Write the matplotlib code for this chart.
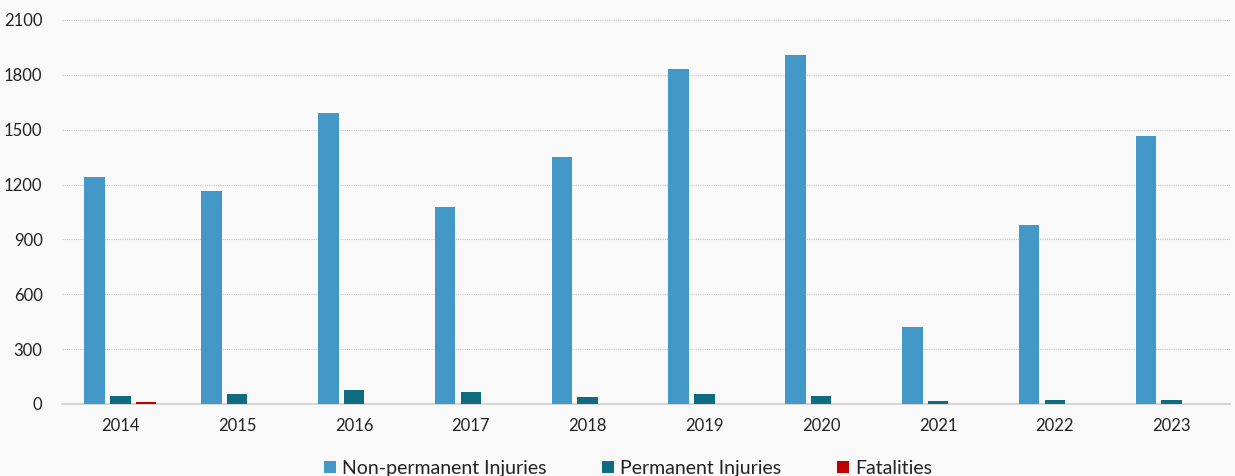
import matplotlib
matplotlib.use("Agg")
import matplotlib.pyplot as plt
import numpy as np

years = ["2014", "2015", "2016", "2017", "2018", "2019", "2020", "2021", "2022", "2023"]
non_permanent = [1240, 1165, 1590, 1078, 1352, 1833, 1908, 421, 980, 1466]
permanent = [46, 52, 74, 64, 36, 55, 44, 15, 24, 22]
fatalities = [9, 2, 1, 1, 1, 1, 1, 2, 1, 1]

plt.rcParams['font.family'] = ['Lato', 'DejaVu Sans']

fig = plt.figure(figsize=(12.35, 4.76), dpi=100, facecolor="#f9f9f9")
ax = fig.add_axes([62 / 1235, 72 / 476, 1168 / 1235, 384 / 476])
ax.set_facecolor("#f9f9f9")

x = np.arange(len(years))
w = 0.175
step = 0.22
ax.bar(x - step, non_permanent, w, color="#4398c8", label="Non-permanent Injuries", zorder=3)
ax.bar(x, permanent, w, color="#0e6b80", label="Permanent Injuries", zorder=3)
ax.bar(x + step, fatalities, w, color="#c00000", label="Fatalities", zorder=3)

ax.set_xlim(-0.5, len(years) - 0.5)
ax.set_ylim(0, 2100)
ax.set_yticks(range(0, 2101, 300))
ax.set_xticks(x)
ax.set_xticklabels(years)
ax.tick_params(axis="both", length=0, labelsize=12, colors="#222222")
ax.tick_params(axis="y", pad=14)
ax.tick_params(axis="x", pad=10)
ax.yaxis.grid(True, linestyle=(0, (1, 1)), color="#c8c8c8", linewidth=0.8, zorder=0)

for side in ["top", "right", "left"]:
    ax.spines[side].set_visible(False)
ax.spines["bottom"].set_color("#cfcfcf")
ax.spines["bottom"].set_linewidth(1.2)

leg = ax.legend(loc="lower center", bbox_to_anchor=(0.5 - 18 / 1168, -0.19), ncol=3, frameon=False,
                fontsize=14, handlelength=0.6, handleheight=0.6, handletextpad=0.3,
                columnspacing=2.9, borderaxespad=0, borderpad=0)
for t in leg.get_texts():
    t.set_color("#222222")

fig.savefig("out.png", dpi=100, facecolor=fig.get_facecolor())
